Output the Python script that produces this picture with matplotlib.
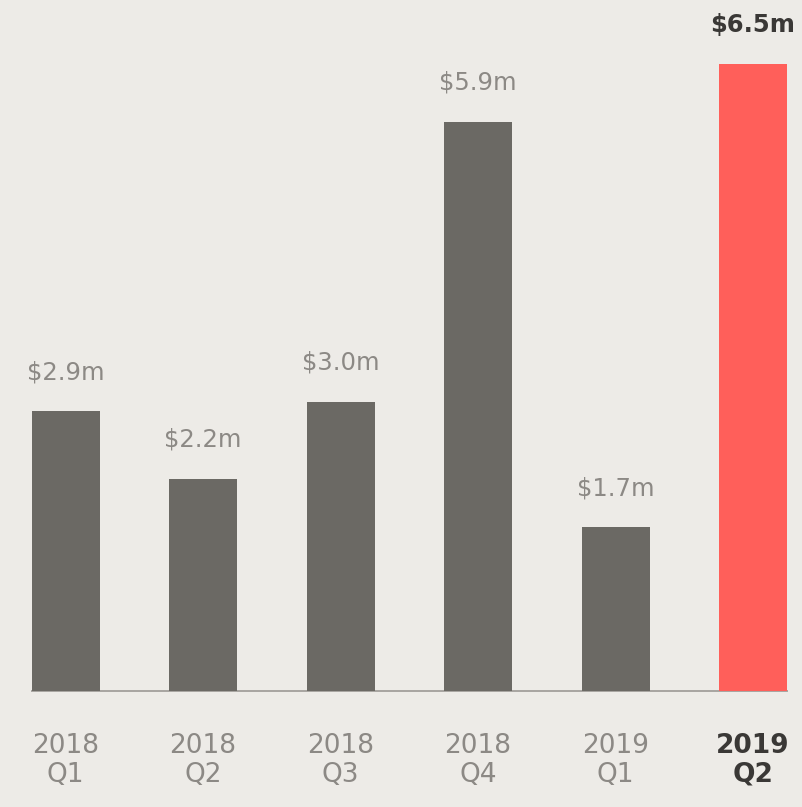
import matplotlib
matplotlib.use("Agg")
import matplotlib.pyplot as plt

years = ["2018", "2018", "2018", "2018", "2019", "2019"]
quarters = ["Q1", "Q2", "Q3", "Q4", "Q1", "Q2"]
revenue = [2.9, 2.2, 3.0, 5.9, 1.7, 6.5]     # $m per quarter
labels = ["$2.9m", "$2.2m", "$3.0m", "$5.9m", "$1.7m", "$6.5m"]

BG = "#edebe7"
GREY_BAR = "#6b6964"
RED_BAR = "#ff5f5a"
TXT = "#8c8985"
TXT_DARK = "#3a3836"

fig = plt.figure(figsize=(8.02, 8.07), dpi=100, facecolor=BG)
ax = fig.add_axes([0, 0, 1, 1])
ax.set_facecolor(BG)

n = len(revenue)
xs = list(range(n))
last = n - 1
colors = [RED_BAR if i == last else GREY_BAR for i in xs]
ax.bar(xs, revenue, width=0.495, color=colors, zorder=2)
ax.plot([-0.245, last + 0.245], [0, 0], color="#a8a5a1", lw=1.4, zorder=1)

for i, (v, lab) in enumerate(zip(revenue, labels)):
    hi = i == last
    ax.annotate(lab, (i, v), xytext=(0, 23), textcoords="offset points",
                ha="center", va="baseline", fontsize=17.5,
                color=TXT_DARK if hi else TXT, weight="bold" if hi else "normal")
    ax.text(i, -0.57, years[i], ha="center", va="center", fontsize=19,
            color=TXT_DARK if hi else TXT, weight="bold" if hi else "normal")
    ax.text(i, -0.87, quarters[i], ha="center", va="center", fontsize=19,
            color=TXT_DARK if hi else TXT, weight="bold" if hi else "normal")

# one $m = ~96.5 px, zero line ~116 px above the bottom edge
ax.set_xlim(-0.477, 5.356)
ax.set_ylim(-1.202, 7.161)
ax.axis("off")

fig.savefig("out.png", dpi=100, facecolor=BG)
